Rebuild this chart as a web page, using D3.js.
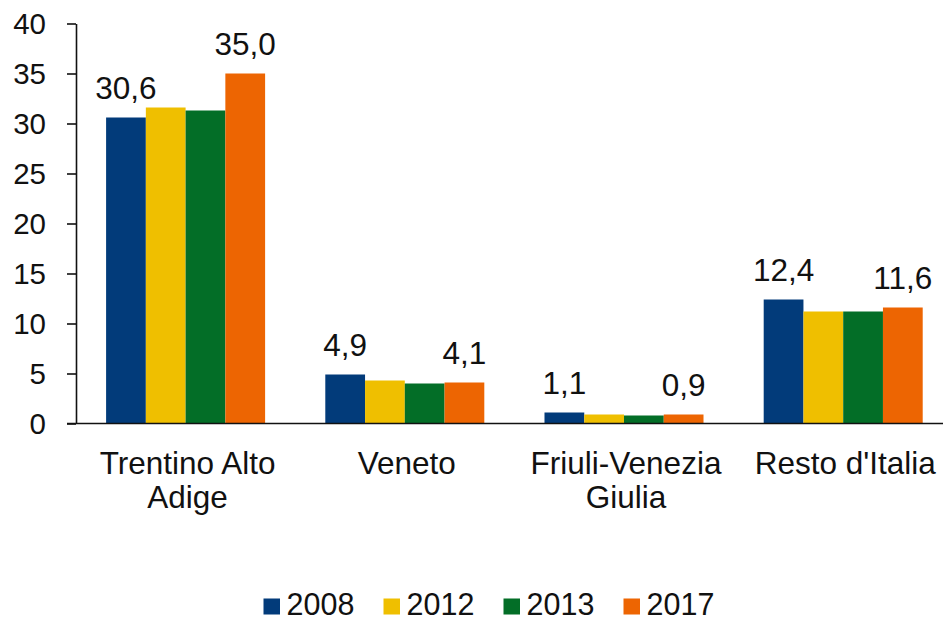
<!DOCTYPE html>
<html lang="it">
<head>
    <meta charset="UTF-8">
    <title>Regioni</title>
    <script src="https://d3js.org/d3.v7.min.js"></script>
    <style>
        body { margin: 0; background: #fff; }
        text { font-family: "Liberation Sans", Arial, sans-serif; fill: #111; }
    </style>
</head>
<body>
    <svg width="943" height="620"></svg>

    <script>
        // Data
        const categories = ["Trentino Alto Adige", "Veneto", "Friuli-Venezia Giulia", "Resto d'Italia"];
        const categoryLines = [["Trentino Alto", "Adige"], ["Veneto"], ["Friuli-Venezia", "Giulia"], ["Resto d'Italia"]];
        const years = ["2008", "2012", "2013", "2017"];
        const values2008 = [30.6, 4.9, 1.1, 12.4];
        const values2012 = [31.6, 4.3, 0.9, 11.2];
        const values2013 = [31.3, 4.0, 0.8, 11.2];
        const values2017 = [35.0, 4.1, 0.9, 11.6];
        const yTicks = [0, 5, 10, 15, 20, 25, 30, 35, 40];
        const labelledYears = ["2008", "2017"];
        const colors = ["#023b7a", "#efbf00", "#036e27", "#ed6502"];

        const series = [values2008, values2012, values2013, values2017];
        const rows = categories.map((c, i) => ({
            cat: c,
            vals: years.map((y, j) => ({ year: y, value: series[j][i] }))
        }));

        const svg = d3.select("svg");
        const plotLeft = 76, plotRight = 952.8, plotTop = 23.5, plotBottom = 423.5;

        const x0 = d3.scaleBand()
            .domain(categories)
            .range([plotLeft, plotRight])
            .paddingInner(0.2746)
            .paddingOuter(0.1373);

        const x1 = d3.scaleBand()
            .domain(years)
            .range([0, x0.bandwidth()]);

        const y = d3.scaleLinear()
            .domain([0, 40])
            .range([plotBottom, plotTop]);

        const color = d3.scaleOrdinal().domain(years).range(colors);
        const fmt = v => d3.format(".1f")(v).replace(".", ",");

        // Bars
        const groups = svg.append("g")
            .selectAll("g")
            .data(rows)
            .join("g")
            .attr("transform", d => `translate(${x0(d.cat)},0)`);

        groups.selectAll("rect")
            .data(d => d.vals)
            .join("rect")
            .attr("x", d => x1(d.year))
            .attr("y", d => y(d.value))
            .attr("width", x1.bandwidth())
            .attr("height", d => y(0) - y(d.value))
            .attr("fill", d => color(d.year));

        // Value labels (first and last year only)
        groups.selectAll("text")
            .data(d => d.vals.filter(v => labelledYears.includes(v.year)))
            .join("text")
            .attr("x", d => x1(d.year) + x1.bandwidth() / 2)
            .attr("y", d => y(d.value) - 19)
            .attr("text-anchor", "middle")
            .style("font-size", "31.5px")
            .text(d => fmt(d.value));

        // Y axis
        const yAxis = svg.append("g")
            .attr("transform", `translate(${plotLeft},0)`)
            .call(d3.axisLeft(y).tickValues(yTicks).tickSize(9).tickSizeOuter(0).tickPadding(21));
        yAxis.select(".domain").attr("stroke", "#111").attr("stroke-width", 1.6);
        yAxis.selectAll(".tick line").attr("stroke", "#111").attr("stroke-width", 1.6);
        yAxis.selectAll(".tick text")
            .style("font-size", "29.5px")
            .style("font-family", "'Liberation Sans', Arial, sans-serif")
            .attr("fill", "#111")
            .attr("dy", "0.35em");

        // X axis line
        svg.append("line")
            .attr("x1", plotLeft - 9).attr("x2", 943)
            .attr("y1", y(0)).attr("y2", y(0))
            .attr("stroke", "#111").attr("stroke-width", 1.6);

        // Category labels
        svg.append("g")
            .selectAll("text")
            .data(categories)
            .join("text")
            .attr("text-anchor", "middle")
            .style("font-size", "31.5px")
            .attr("transform", d => `translate(${x0(d) + x0.bandwidth() / 2 + 2},474)`)
            .selectAll("tspan")
            .data((d, i) => categoryLines[i])
            .join("tspan")
            .attr("x", 0)
            .attr("y", (d, i) => i * 34)
            .text(d => d);

        // Legend
        const legend = svg.append("g")
            .selectAll("g")
            .data(years)
            .join("g")
            .attr("transform", (d, i) => `translate(${263.5 + i * 120},598.5)`);
        legend.append("rect")
            .attr("width", 16.5).attr("height", 16)
            .attr("fill", d => color(d));
        legend.append("text")
            .attr("x", 23).attr("y", 16)
            .style("font-size", "30.5px")
            .text(d => d);
    </script>
</body>
</html>
